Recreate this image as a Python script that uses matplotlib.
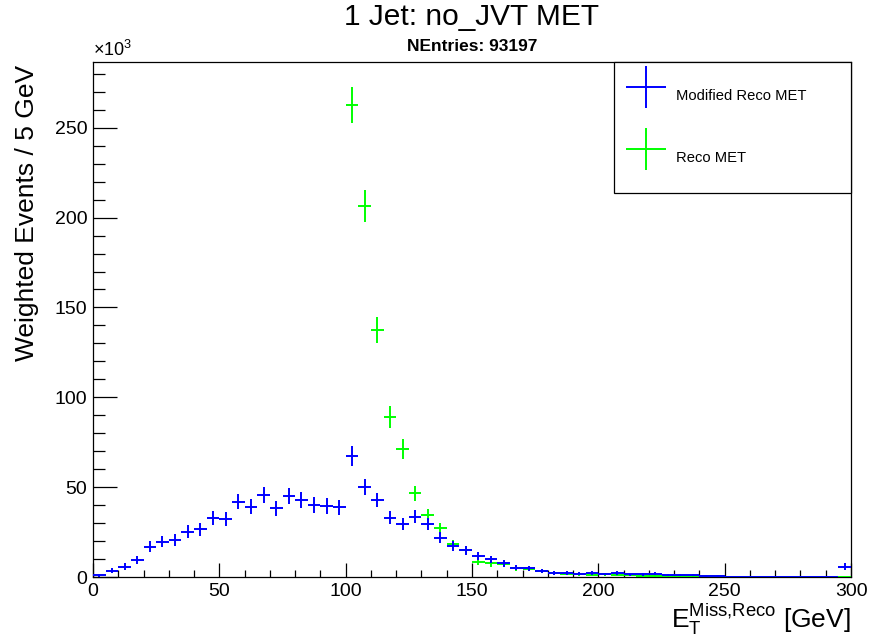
import matplotlib
matplotlib.use('Agg')
import matplotlib.pyplot as plt
from matplotlib.container import ErrorbarContainer
from matplotlib.legend_handler import HandlerErrorbar
from matplotlib.ticker import MultipleLocator

plt.rcParams['font.family'] = ['Liberation Sans', 'DejaVu Sans']
plt.rcParams['mathtext.fontset'] = 'custom'
plt.rcParams['mathtext.rm'] = 'Liberation Sans'
plt.rcParams['mathtext.it'] = 'Liberation Sans'

# 5 GeV bins, values in units of 10^3 weighted events
bin_width = 5
mod_centers = [2.5 + 5 * i for i in range(60)]
mod_values = [1.0, 3.5, 5.7, 9.5, 16.9, 19.7, 20.6, 25.2, 26.7, 33.0,
              32.1, 41.9, 39.1, 45.6, 38.2, 45.1, 42.8, 40.1, 39.5, 38.8,
              67.3, 50.3, 42.8, 33.0, 29.3, 33.6, 29.5, 21.9, 17.3, 15.0,
              11.9, 9.8, 7.6, 5.2, 4.8, 3.5, 2.4, 2.3, 1.9, 2.2,
              1.7, 2.2, 1.5, 1.6, 1.8, 1.2, 1.0, 0.9, 0.7, 0.6,
              0, 0, 0, 0, 0, 0, 0, 0, 0, 5.8]
mod_errors = [0.8, 1.5, 2.0, 2.4, 3.0, 3.2, 3.2, 3.5, 3.6, 4.0,
              3.9, 4.3, 4.2, 4.6, 4.2, 4.5, 4.4, 4.3, 4.2, 4.2,
              5.4, 4.4, 4.1, 3.6, 3.4, 3.6, 3.4, 3.0, 2.6, 2.5,
              2.2, 2.0, 1.8, 1.5, 1.4, 1.2, 1.0, 1.0, 0.9, 0.9,
              0.8, 0.9, 0.8, 0.8, 0.8, 0.7, 0.6, 0.6, 0.5, 0.5,
              0, 0, 0, 0, 0, 0, 0, 0, 0, 2.0]

reco_centers = [102.5 + 5 * i for i in range(40)]
reco_values = [262.7, 206.4, 137.5, 89.0, 71.2, 46.7, 34.5, 27.1, 18.2, 15.0,
               8.5, 7.6, 7.2, 5.0, 4.5, 3.2, 2.0, 1.8, 1.5, 1.2,
               1.5, 1.0, 1.0, 0.8, 0.7, 0.5, 0.6, 0.4, 0.3, 0.3,
               0, 0, 0, 0, 0, 0, 0, 0, 0, 0]
reco_errors = [10.0, 9.0, 7.0, 6.0, 5.4, 4.2, 3.6, 3.2, 2.6, 2.4,
               1.9, 1.8, 1.7, 1.4, 1.3, 1.1, 0.9, 0.8, 0.8, 0.7,
               0.8, 0.6, 0.6, 0.5, 0.5, 0.4, 0.4, 0.4, 0.3, 0.3,
               0, 0, 0, 0, 0, 0, 0, 0, 0, 0]

fig = plt.figure(figsize=(8.7, 6.41), dpi=100)
ax = fig.add_axes([0.1069, 0.0998, 0.8713, 0.8035])

h_reco = ax.errorbar(reco_centers, reco_values, xerr=bin_width / 2, yerr=reco_errors,
                     fmt='none', ecolor='#00ff00', elinewidth=1.4, capsize=0,
                     zorder=3, label='Reco MET')
h_mod = ax.errorbar(mod_centers, mod_values, xerr=bin_width / 2, yerr=mod_errors,
                    fmt='none', ecolor='#0000ff', elinewidth=1.4, capsize=0,
                    zorder=4, label='Modified Reco MET')

ax.set_xlim(0, 300)
ax.set_ylim(0, 286.6)
ax.xaxis.set_major_locator(MultipleLocator(50))
ax.xaxis.set_minor_locator(MultipleLocator(10))
ax.yaxis.set_major_locator(MultipleLocator(50))
ax.yaxis.set_minor_locator(MultipleLocator(10))
ax.tick_params(axis='both', which='both', direction='in', width=0.9, labelsize=14)
ax.tick_params(axis='x', which='major', length=10, pad=4)
ax.tick_params(axis='x', which='minor', length=5)
ax.tick_params(axis='y', which='major', length=17, pad=4)
ax.tick_params(axis='y', which='minor', length=8.6)
for s in ax.spines.values():
    s.set_linewidth(0.9)

ax.text(0, 1.004, r'$\times10^{3}$', transform=ax.transAxes, ha='left', va='bottom', fontsize=13)

fig.text(0.5425, 0.9735, '1 Jet: no_JVT MET', ha='center', va='center', fontsize=21.5)
fig.text(0.5425, 0.928, 'NEntries: 93197', ha='center', va='center', fontsize=12.5, fontweight='bold')
fig.text(0.031, 0.899, 'Weighted Events / 5 GeV', rotation=90, ha='center', va='top', fontsize=19)
fig.text(0.978, 0.006, r'$\mathrm{E}_{\mathrm{T}}^{\mathrm{Miss{,}Reco}}$ [GeV]', ha='right', va='bottom', fontsize=19)

leg = ax.legend(handles=[h_mod, h_reco], loc='upper left',
                bbox_to_anchor=(0.687, 0.7495, 0.313, 0.2505), mode='expand',
                fontsize=10.6, frameon=True, fancybox=False, framealpha=1,
                edgecolor='black', borderpad=0.8, handlelength=2.8,
                handleheight=4.42, labelspacing=1.09, handletextpad=0.6,
                borderaxespad=0,
                handler_map={ErrorbarContainer: HandlerErrorbar(xerr_size=1.36, yerr_size=1.45)})
leg.get_frame().set_linewidth(0.9)

fig.savefig('out.png', dpi=100)
